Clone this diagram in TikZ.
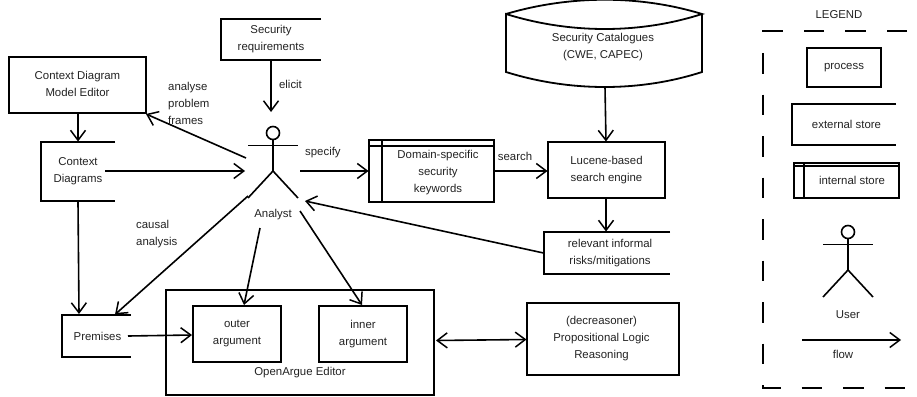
\documentclass[tikz,border=0pt]{standalone}
\usepackage{fontspec}
\setmainfont{Liberation Sans}
\usetikzlibrary{arrows.meta}
\definecolor{ink}{HTML}{000000}
\definecolor{txt}{HTML}{222222}
\tikzset{
  every node/.style={font=\fontsize{11.4}{17}\selectfont,text=txt,align=center,inner sep=0pt},
  ln/.style={line width=1.6pt,draw=ink},
  barb/.tip={Straight Barb[length=10pt,width=15pt,line width=1.5pt]},
  flow/.style={line width=1.6pt,draw=ink,-barb},
  dflow/.style={line width=1.6pt,draw=ink,barb-barb},
  boxed/.style={draw=ink,line width=1.8pt},
  lab/.style={anchor=west},
  pics/actor/.style={code={
    \draw[ln] (0,0) circle (6.5);
    \draw[ln] (0,6.5) -- (0,38);
    \draw[ln] (-25,12.5) -- (25,12.5);
    \draw[ln] (-25,65) -- (0,38) -- (25,65);
  }}
}
\newcommand{\upby}[1]{\rule[-#1]{0pt}{#1}}
\newcommand{\downby}[1]{\rule{0pt}{#1}}
\newcommand{\boxat}[7]{% name x1 y1 x2 y2 text style
  \node[#7,minimum width=#4pt-#2pt,minimum height=#5pt-#3pt] (#1) at ({(#2+#4)/2},{(#3+#5)/2}) {#6};}
\newcommand{\storeat}[6]{% open right store
  \node[minimum width=#4pt-#2pt,minimum height=#5pt-#3pt] (#1) at ({(#2+#4)/2},{(#3+#5)/2}) {#6};
  \draw[boxed] (#1.north east) -- (#1.north west) -- (#1.south west) -- (#1.south east);}
\begin{document}
\begin{tikzpicture}[x=1pt,y=-1pt]
\useasboundingbox (0,0) rectangle (917,396);
% processes
\boxat{cdme}{9}{57}{146}{113}{Context Diagram\\Model Editor\upby{3pt}}{boxed}
\boxat{lucene}{548}{142}{665}{198}{Lucene-based\\search engine\upby{2pt}}{boxed}
\node[boxed,minimum width=268pt,minimum height=105pt] (oa) at (300,342.5) {};
\node (oalab) at (300,373) {OpenArgue Editor};
\boxat{outer}{193}{306}{281}{362}{outer\\argument\upby{3pt}}{boxed}
\boxat{inner}{319}{306}{407}{362}{inner\\argument\upby{3pt}}{boxed}
\boxat{reason}{527}{303}{679}{375}{\hspace*{-3pt}(decreasoner)\\\hspace*{-3pt}Propositional Logic\\\hspace*{-3pt}Reasoning}{boxed}
% external stores
\storeat{secreq}{221}{19}{321}{60}{Security\\requirements}
\storeat{cd}{41}{142}{115}{201}{Context\\Diagrams}
\storeat{prem}{62}{315}{131}{357}{\hspace*{2pt}Premises}
\storeat{rel}{544}{232}{670}{274}{\hspace*{6pt}relevant informal\\\hspace*{6pt}risks/mitigations}
% internal store
\boxat{dom}{369}{140}{494}{202}{\hspace*{13pt}\downby{11pt}Domain-specific\\\hspace*{13pt}security\\\hspace*{13pt}keywords}{boxed}
\draw[ln] (382,140) -- (382,202);
\draw[ln] (369,146) -- (494,146);
% catalogue
\node[minimum width=195pt,minimum height=34pt] (cat) at (603,47.5) {Security Catalogues\\(CWE, CAPEC)};
\draw[boxed] (506,14) .. controls (570,-5) and (640,-5) .. (702,14)
  .. controls (640,34) and (570,34) .. (506,14) -- (506,72)
  .. controls (570,92) and (640,92) .. (702,72) -- (702,14);
% actor
\pic at (273,133) {actor};
\coordinate (acttop) at (271,112);
\coordinate (actul) at (246,158);
\coordinate (actl) at (245,171);
\coordinate (actr) at (300,171);
\coordinate (actll) at (248,196);
\coordinate (actlr) at (305,201);
\node (analyst) at (273,215) {Analyst};
\coordinate (anout) at (260,228);
\coordinate (anin) at (300,211);
% connector ends
\coordinate (srb) at (271,60.8);
\coordinate (cdmea) at (146,114);
\coordinate (cdmeb) at (78,113.8);
\coordinate (cdt) at (78,141.5);
\coordinate (cdr) at (105,171);
\coordinate (cdb) at (78,201.8);
\coordinate (premt) at (79,314);
\coordinate (premt2) at (115,314.5);
\coordinate (premr) at (128,336);
\coordinate (outl) at (192,335);
\coordinate (outt) at (244,305);
\coordinate (innt) at (362,305);
\coordinate (doml) at (368.5,171);
\coordinate (domr) at (494.8,171);
\coordinate (lucl) at (547.5,171);
\coordinate (catb) at (605,87);
\coordinate (luct) at (606,141.5);
\coordinate (lucb) at (606,198.8);
\coordinate (relt) at (606,231.5);
\coordinate (rell) at (543.5,253);
\coordinate (oar) at (436,340.5);
\coordinate (reasl) at (526.5,339.5);
\draw[flow] (srb) -- (acttop);
\draw[flow] (actul) -- (cdmea);
\draw[flow] (cdmeb) -- (cdt);
\draw[flow] (cdr) -- (actl);
\draw[flow] (actr) -- (doml);
\draw[flow] (domr) -- (lucl);
\draw[flow] (catb) -- (luct);
\draw[flow] (lucb) -- (relt);
\draw[flow] (rell) -- (actlr);
\draw[flow] (actll) -- (premt2);
\draw[flow] (cdb) -- (premt);
\draw[flow] (anout) -- (outt);
\draw[flow] (anin) -- (innt);
\draw[flow] (premr) -- (outl);
\draw[dflow] (oar) -- (reasl);
% labels
\node (lelicit) at (290.5,84) {elicit};
\node[lab,align=left] (lana) at (168,103) {analyse\\problem\\frames};
\node[lab,align=left] (lspec) at (305,153) {specify};
\node (lsearch) at (515,156) {search};
\node[lab,align=left] (lcausal) at (136,234) {causal\\analysis};
% legend
\node (legt) at (839,15) {LEGEND};
\draw[line width=1.5pt,draw=ink,dash pattern=on 20.5pt off 21pt] (907,31) -- (763,31) -- (763,388) -- (909,388);
\boxat{lproc}{807}{48}{881}{87}{process}{boxed}
\storeat{lext}{792}{104}{896}{145}{\hspace*{5pt}external store}
\boxat{lint}{794}{163}{899}{198}{\hspace*{11pt}internal store}{boxed}
\draw[ln] (804,163) -- (804,198);
\draw[ln] (794,166) -- (899,166);
\pic at (848,232) {actor};
\node (luser) at (848,315) {User};
\coordinate (lf1) at (802,340);
\coordinate (lf2) at (901,340);
\draw[flow] (lf1) -- (lf2);
\node (lflow) at (843,354) {flow};
\end{tikzpicture}
\end{document}
